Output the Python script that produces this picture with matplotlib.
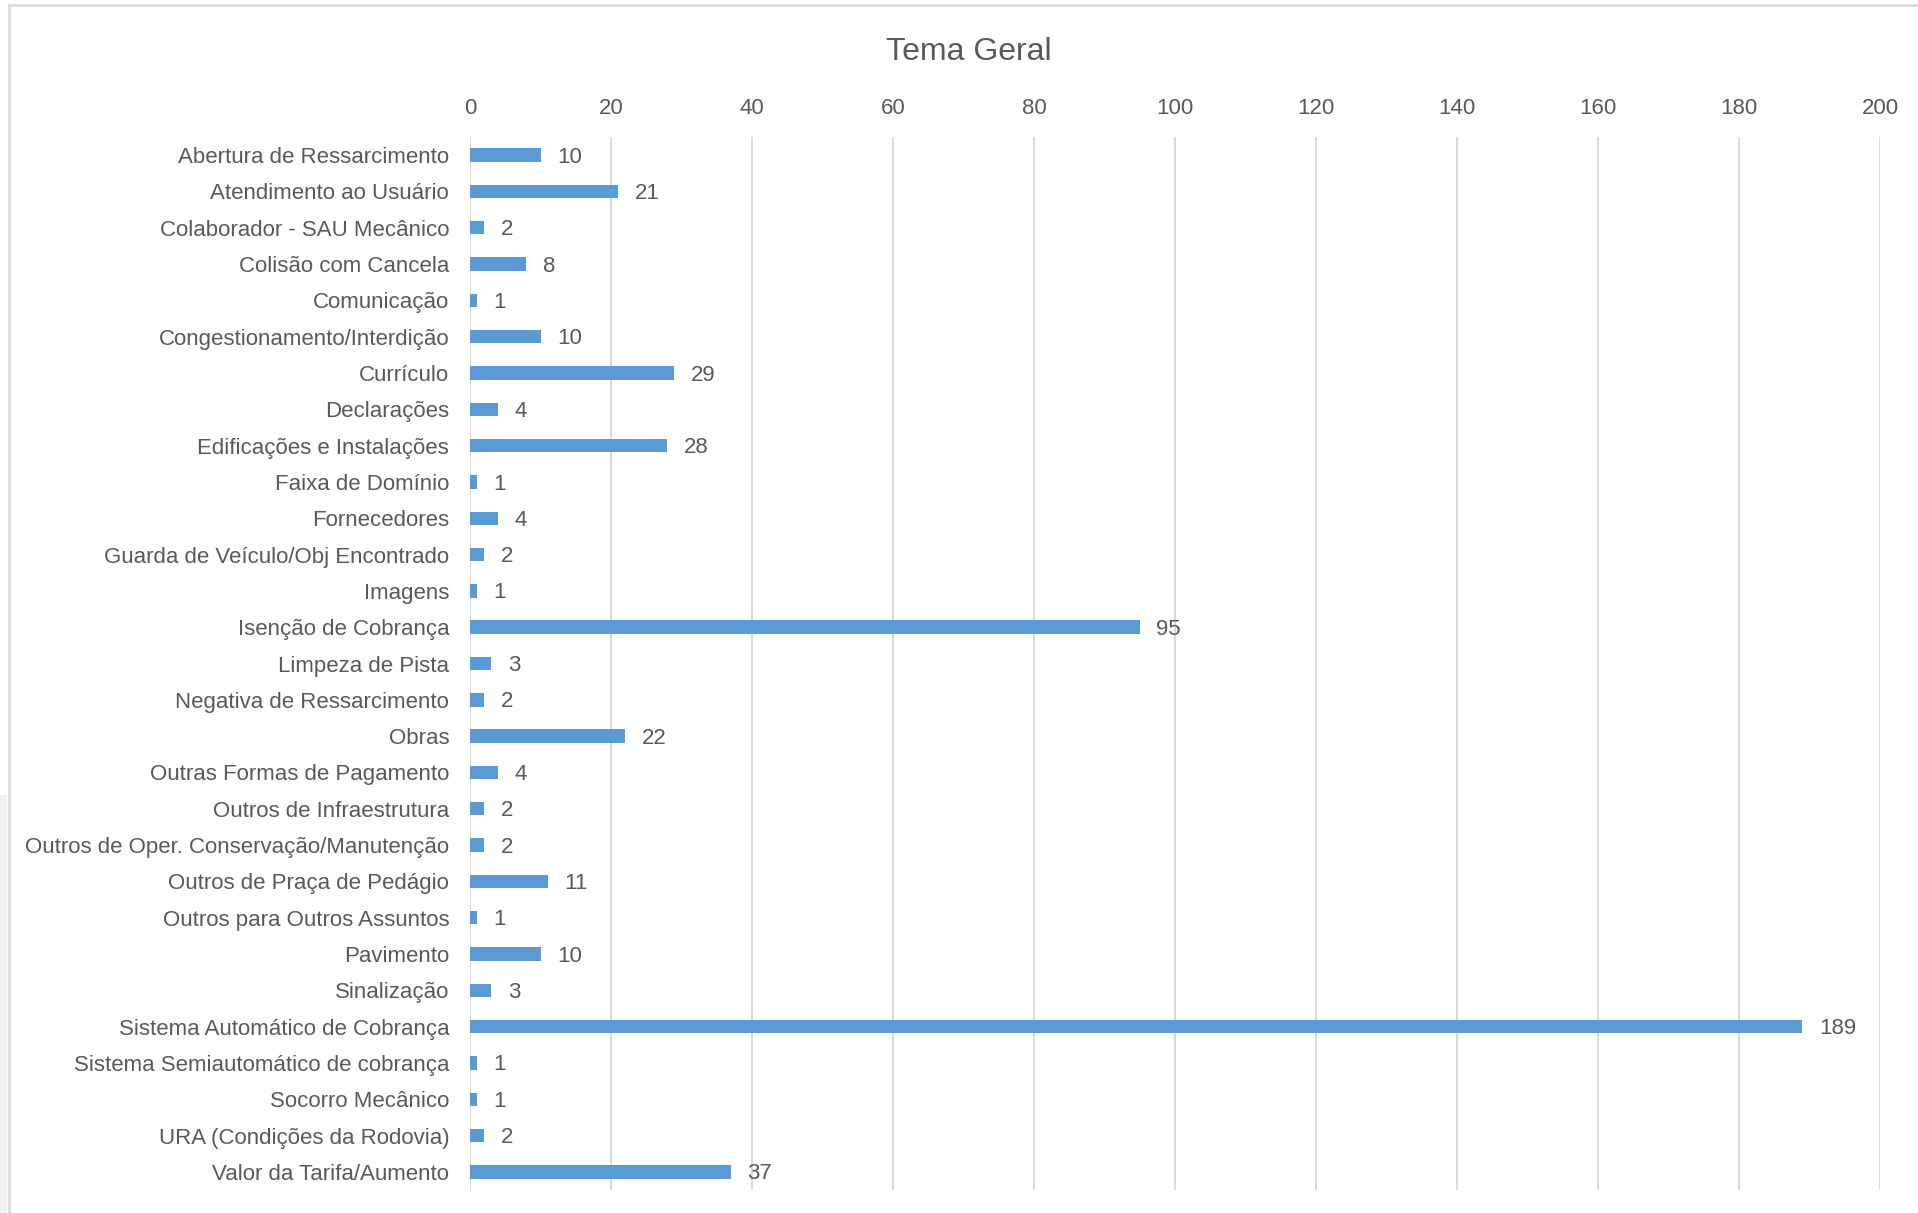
import matplotlib
matplotlib.use("Agg")
import matplotlib.pyplot as plt
from matplotlib import font_manager as fm
from matplotlib.lines import Line2D
from matplotlib.patches import Rectangle

categories = [
    "Abertura de Ressarcimento", "Atendimento ao Usuário", "Colaborador - SAU Mecânico",
    "Colisão com Cancela", "Comunicação", "Congestionamento/Interdição", "Currículo",
    "Declarações", "Edificações e Instalações", "Faixa de Domínio", "Fornecedores",
    "Guarda de Veículo/Obj Encontrado", "Imagens", "Isenção de Cobrança", "Limpeza de Pista",
    "Negativa de Ressarcimento", "Obras", "Outras Formas de Pagamento", "Outros de Infraestrutura",
    "Outros de Oper. Conservação/Manutenção", "Outros de Praça de Pedágio",
    "Outros para Outros Assuntos", "Pavimento", "Sinalização", "Sistema Automático de Cobrança",
    "Sistema Semiautomático de cobrança", "Socorro Mecânico", "URA (Condições da Rodovia)",
    "Valor da Tarifa/Aumento",
]
values = [10, 21, 2, 8, 1, 10, 29, 4, 28, 1, 4, 2, 1, 95, 3, 2, 22, 4, 2, 2, 11, 1, 10, 3,
          189, 1, 1, 2, 37]
x_ticks = [0, 20, 40, 60, 80, 100, 120, 140, 160, 180, 200]
title = "Tema Geral"

TEXT = "#595959"
BAR = "#5B9BD5"
GRID = "#D9D9D9"

installed = {f.name for f in fm.fontManager.ttflist}
if "Liberation Sans Narrow" in installed:
    LABEL_FONT, LABEL_SIZE = ["Liberation Sans Narrow", "DejaVu Sans"], 19
elif "DejaVu Sans Condensed" in installed:
    LABEL_FONT, LABEL_SIZE = ["DejaVu Sans Condensed", "DejaVu Sans"], 16
else:
    LABEL_FONT, LABEL_SIZE = ["Liberation Sans", "DejaVu Sans"], 16

W, H = 1918, 1213
fig = plt.figure(figsize=(W / 100, H / 100), dpi=100)
fig.patch.set_facecolor("white")

ax = fig.add_axes([470 / W, 1 - 1190 / H, (1880 - 470) / W, (1190 - 137) / H])
ax.set_facecolor("white")

ypos = list(range(len(categories)))
ax.barh(ypos, values, height=0.37, color=BAR, zorder=3)

ax.set_xlim(0, 200)
ax.set_ylim(len(categories) - 0.5, -0.5)
ax.set_xticks(x_ticks)
ax.set_xticklabels([str(t) for t in x_ticks], family=LABEL_FONT, fontsize=LABEL_SIZE, color=TEXT)
ax.xaxis.tick_top()
ax.set_yticks(ypos)
ax.set_yticklabels(categories, family=LABEL_FONT, fontsize=LABEL_SIZE, color=TEXT)
ax.tick_params(axis="x", length=0, pad=13)
ax.tick_params(axis="y", length=0, pad=15)
ax.grid(axis="x", color=GRID, linewidth=1.4, zorder=0)
ax.grid(axis="y", visible=False)
for s in ax.spines.values():
    s.set_visible(False)

for y, v in zip(ypos, values):
    ax.annotate(str(v), (v, y), xytext=(12, -1.5), textcoords="offset points",
                ha="left", va="center", family=LABEL_FONT, fontsize=LABEL_SIZE, color=TEXT)

fig.text(969 / W, 1 - 52 / H, title, ha="center", va="center",
         family=["Liberation Sans", "DejaVu Sans"], fontsize=23, color=TEXT)

# outer chart frame (top and left edges visible)
fig.add_artist(Line2D([9 / W, 1.0], [1 - 5 / H, 1 - 5 / H], transform=fig.transFigure,
                      color=GRID, linewidth=1.8))
fig.add_artist(Line2D([9 / W, 9 / W], [0, 1 - 5 / H], transform=fig.transFigure,
                      color=GRID, linewidth=1.8))
fig.add_artist(Rectangle((0, 0), 7 / W, (1213 - 795) / H, transform=fig.transFigure,
                         facecolor="#F2F2F2", edgecolor="none"))

fig.savefig("out.png", dpi=100, facecolor="white")
